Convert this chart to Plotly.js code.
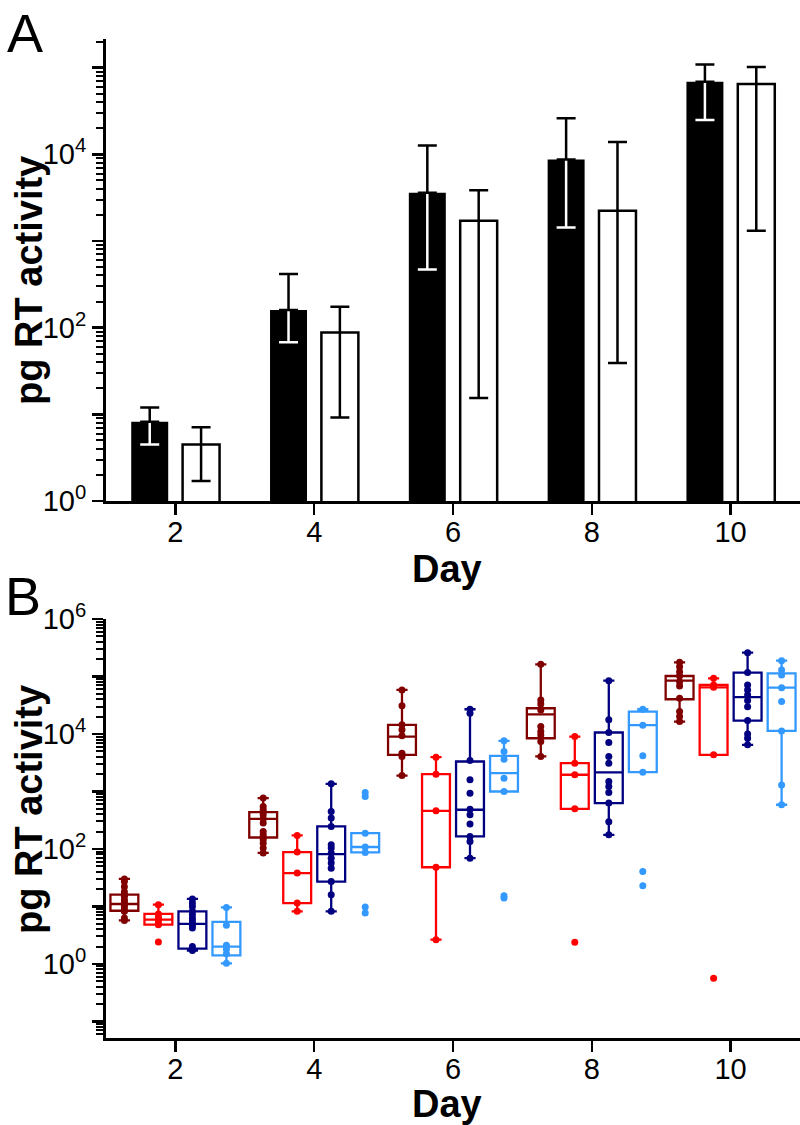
<!DOCTYPE html>
<html>
<head>
<meta charset="utf-8">
<script src="https://cdn.plot.ly/plotly-3.0.1.min.js"></script>
<style>
  html, body { margin: 0; padding: 0; background: #fff; }
  #chart { width: 800px; height: 1125px; }
</style>
</head>
<body>
<div id="chart"></div>
<script>
const FONT = 'Liberation Sans, Arial, sans-serif';

const days = [2, 4, 6, 8, 10];
const dayLabels = ['2', '4', '6', '8', '10'];

// Panel A: bar heights and error bar ends (pg RT activity)
const blackMean = [8.2, 160, 3600, 8700, 68600];
const blackHigh = [12, 415, 12600, 26100, 108700];
const blackLow = [4.5, 68, 470, 1435, 24800];
const whiteMean = [4.5, 88, 1710, 2230, 64500];
const whiteHigh = [7.1, 174, 3860, 13900, 101400];
const whiteLow = [1.7, 9.2, 15.4, 39, 1312];

// Panel B: box statistics and sample points, one array per group
const darkRedQ1 = [8.4, 158, 4330, 8430, 40200];
const darkRedMed = [11, 334, 9020, 22000, 84700];
const darkRedQ3 = [16, 437, 14400, 28000, 102000];
const darkRedLo = [5.7, 85, 1890, 4060, 16400];
const darkRedHi = [30, 766, 58300, 163000, 176600];
const darkRedPts = [
  [30, 27, 22, 18, 16, 15, 13, 12, 11, 10.5, 9.4, 8.4, 8.2, 6.3, 5.7],
  [766, 548, 480, 437, 393, 334, 281, 201, 176, 158, 144, 126, 104, 85],
  [58300, 31000, 14400, 11800, 9270, 4630, 4050, 1890],
  [163000, 39100, 33300, 26200, 13500, 11000, 9640, 7380, 4060],
  [176600, 148000, 121000, 102000, 81400, 68400, 41800, 24500, 20100, 16400]
];

const redQ1 = [4.8, 11.4, 48, 499, 4330];
const redMed = [5.9, 38, 460, 1950, 64900];
const redQ3 = [7.4, 88, 2000, 3100, 71300];
const redLo = [4.8, 8.2, 2.64, 499, 4330];
const redHi = [10.7, 172, 3940, 9020, 93100];
const redPts = [
  [10.7, 7.4, 6.5, 5.9, 5.2, 4.8, 2.4],
  [172, 88, 38, 11.4, 8.2],
  [3940, 2000, 460, 48, 2.64],
  [9020, 3100, 1950, 499, 2.38],
  [93100, 71300, 64900, 4330, 0.56]
];

const navyQ1 = [1.84, 27, 165, 627, 17100];
const navyMed = [4.95, 81, 480, 2140, 43600];
const navyQ3 = [8.2, 246, 3320, 10600, 116800];
const navyLo = [1.7, 8.2, 69, 176, 6460];
const navyHi = [13.5, 1358, 26900, 84700, 260000];
const navyPts = [
  [13.5, 11.5, 10, 8.2, 7.2, 6.3, 5.6, 5.0, 4.6, 4.2, 2.0, 1.8, 1.7],
  [1358, 449, 344, 246, 118, 104, 85, 69, 57, 46, 27, 16, 8.2],
  [26900, 22900, 3450, 1590, 934, 492, 393, 270, 165, 135, 69],
  [84700, 17600, 10600, 7090, 4050, 3100, 1490, 1220, 960, 627, 297, 176],
  [260000, 116800, 71300, 58300, 47800, 38100, 29900, 17100, 10000, 8430, 6460]
];

const skyQ1 = [1.41, 87, 998, 2160, 11300];
const skyMed = [2.0, 108, 2080, 14200, 64000];
const skyQ3 = [5.36, 188, 4160, 24500, 113700];
const skyLo = [1.02, 87, 998, 2160, 587];
const skyHi = [9.6, 188, 7590, 26900, 188800];
const skyPts = [
  [9.6, 4.7, 2.1, 1.8, 1.5, 1.02],
  [960, 820, 188, 108, 87, 9.8, 7.7],
  [7590, 4940, 3640, 1700, 998, 15.3, 14],
  [26900, 14200, 4160, 2160, 40.6, 22.9],
  [188800, 129800, 106400, 64000, 36600, 11300, 1300, 587]
];

function logTicks(first, last, labelled) {
  const vals = [];
  const text = [];
  const minor = [];
  for (let e = first; e <= last; e++) {
    vals.push(Math.pow(10, e));
    text.push(labelled.includes(e) ? '10<sup>' + e + '</sup>' : '');
    for (let m = 2; m <= 9; m++) minor.push(m * Math.pow(10, e));
  }
  return { vals, text, minor };
}

const axisStyle = {
  showgrid: false,
  zeroline: false,
  showline: true,
  linewidth: 3,
  linecolor: '#000',
  ticks: 'outside',
  ticklen: 11,
  tickwidth: 2.5,
  tickcolor: '#000',
  tickfont: { family: FONT, size: 29, color: '#000' }
};

function xAxis(domainAnchor) {
  return Object.assign({}, axisStyle, {
    anchor: domainAnchor,
    range: [1, 11],
    tickmode: 'array',
    tickvals: days,
    ticktext: dayLabels,
    ticklabelstandoff: -8
  });
}

function yAxis(domainAnchor, domain, range, ticks) {
  return Object.assign({}, axisStyle, {
    anchor: domainAnchor,
    domain: domain,
    type: 'log',
    range: range,
    tickmode: 'array',
    tickvals: ticks.vals,
    ticktext: ticks.text,
    minor: {
      tickmode: 'array',
      tickvals: ticks.minor,
      ticks: 'outside',
      ticklen: 7,
      tickwidth: 2,
      tickcolor: '#000',
      showgrid: false
    }
  });
}

function errUp(mean, high) {
  return mean.map((m, i) => high[i] - m);
}
function errDown(mean, low) {
  return mean.map((m, i) => m - low[i]);
}

function boxTrace(color, q1, med, q3, lo, hi, pts) {
  return {
    type: 'box',
    orientation: 'v',
    xaxis: 'x2',
    yaxis: 'y2',
    x: days,
    y: pts,
    q1: q1,
    median: med,
    q3: q3,
    lowerfence: lo,
    upperfence: hi,
    boxpoints: 'all',
    jitter: 0,
    pointpos: 0,
    whiskerwidth: 0.4,
    fillcolor: 'rgba(0,0,0,0)',
    line: { color: color, width: 2.3 },
    marker: { color: color, size: 7 },
    showlegend: false,
    hoverinfo: 'skip'
  };
}

const errStyle = { type: 'data', symmetric: false, thickness: 2.5, width: 9.5 };

const data = [
  // black bars, lower part of the error bar drawn white inside the bar
  {
    type: 'bar', x: days, y: blackMean, offsetgroup: 'a',
    marker: { color: '#000', line: { color: '#000', width: 0 } },
    error_y: Object.assign({}, errStyle, {
      array: errUp(blackMean, blackHigh), arrayminus: errDown(blackMean, blackLow), color: '#fff'
    })
  },
  // upper part of the same error bar in black
  {
    type: 'bar', x: days, y: blackMean, offsetgroup: 'a',
    marker: { color: 'rgba(0,0,0,0)', line: { width: 0 } },
    error_y: Object.assign({}, errStyle, {
      array: errUp(blackMean, blackHigh), arrayminus: days.map(() => 0), color: '#000'
    })
  },
  {
    type: 'bar', x: days, y: whiteMean, offsetgroup: 'b',
    marker: { color: '#fff', line: { color: '#000', width: 2.5 } },
    error_y: Object.assign({}, errStyle, {
      array: errUp(whiteMean, whiteHigh), arrayminus: errDown(whiteMean, whiteLow), color: '#000'
    })
  },
  boxTrace('#800000', darkRedQ1, darkRedMed, darkRedQ3, darkRedLo, darkRedHi, darkRedPts),
  boxTrace('#ff0000', redQ1, redMed, redQ3, redLo, redHi, redPts),
  boxTrace('#000080', navyQ1, navyMed, navyQ3, navyLo, navyHi, navyPts),
  boxTrace('#3399ff', skyQ1, skyMed, skyQ3, skyLo, skyHi, skyPts)
];

const titleFont = { family: FONT, size: 38, weight: 'bold', color: '#000' };
const panelFont = { family: FONT, size: 54, color: '#000' };

function note(text, x, y, font, angle) {
  return {
    text: text, xref: 'paper', yref: 'paper', x: x, y: y,
    xanchor: 'center', yanchor: 'middle', showarrow: false,
    textangle: angle || 0, font: font
  };
}

const layout = {
  width: 800,
  height: 1125,
  margin: { l: 106, r: 0, t: 39, b: 87 },
  paper_bgcolor: '#fff',
  plot_bgcolor: '#fff',
  showlegend: false,
  barmode: 'group',
  bargap: 0.26,
  bargroupgap: 0.28,
  boxmode: 'group',
  boxgap: 0.02,
  boxgroupgap: 0.18,
  font: { family: FONT, color: '#000' },
  xaxis: xAxis('y'),
  yaxis: yAxis('x', [0.5375, 1], [0, 5.33], logTicks(0, 5, [0, 2, 4])),
  xaxis2: xAxis('y2'),
  yaxis2: yAxis('x2', [0, 0.4194], [-1.29, 6], logTicks(-2, 6, [0, 2, 4, 6])),
  annotations: [
    note('A', -0.117, 1.006, panelFont),
    note('B', -0.119, 0.442, panelFont),
    note('pg RT activity', -0.111, 0.7588, titleFont, -90),
    note('pg RT activity', -0.111, 0.2292, titleFont, -90),
    note('Day', 0.492, 0.469, titleFont),
    note('Day', 0.492, -0.066, titleFont)
  ]
};

Plotly.newPlot('chart', data, layout, { staticPlot: true });
</script>
</body>
</html>
